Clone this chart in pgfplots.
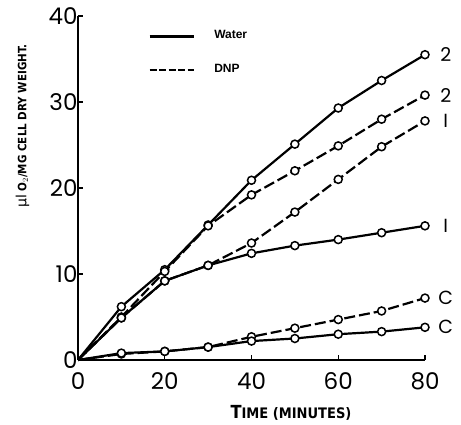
\documentclass[border=0pt]{standalone}
\usepackage{fontspec}
\setmainfont{Poppins}
\newfontfamily\gk{DejaVu Sans}
\newfontfamily\cond{DejaVu Sans Condensed}
\newfontfamily\lab{Liberation Sans}
\usepackage{pgfplots}
\pgfplotsset{compat=1.18}
\begin{document}
\begin{tikzpicture}[x=1pt,y=1pt]
\begin{axis}[
  at={(0,0)}, anchor=origin,
  scale only axis, width=347pt, height=344pt,
  xmin=0, xmax=80, ymin=0, ymax=40,
  axis lines=left, axis line style={line width=1.8pt,-},
  xtick={0,20,40,60,80}, ytick={0,10,20,30,40},
  tick style={line width=1.4pt,black}, major tick length=5pt,
  tick align=inside,
  /pgf/number format/assume math mode=true,
  ticklabel style={font=\fontsize{23}{24}\selectfont},
  xticklabel style={yshift=-9pt},
  yticklabel style={xshift=3pt},
  clip=false,
  every axis plot/.append style={line width=2.2pt, black, mark=*, mark size=4pt,
    mark options={solid, fill=white, draw=black, line width=1.5pt}, mark indices={2,...,9}},
]
\addplot[solid] coordinates {(0,0)(10,6.2)(20,10.5)(30,15.7)(40,20.9)(50,25.1)(60,29.3)(70,32.5)(80,35.5)};
\addplot[dash pattern=on 11pt off 4pt] coordinates {(0,0)(10,5.0)(20,10.3)(30,15.6)(40,19.2)(50,22.0)(60,24.9)(70,28.0)(80,30.8)};
\addplot[dash pattern=on 11pt off 4pt] coordinates {(0,0)(10,4.9)(20,9.2)(30,11.0)(40,13.6)(50,17.2)(60,21.0)(70,24.8)(80,27.8)};
\addplot[solid] coordinates {(0,0)(10,4.9)(20,9.2)(30,11.0)(40,12.4)(50,13.3)(60,14.0)(70,14.8)(80,15.6)};
\addplot[dash pattern=on 11pt off 4pt] coordinates {(0,0)(10,0.7)(20,1.0)(30,1.5)(40,2.7)(50,3.7)(60,4.7)(70,5.7)(80,7.2)};
\addplot[solid] coordinates {(0,0)(10,0.8)(20,1.0)(30,1.5)(40,2.2)(50,2.5)(60,3.0)(70,3.3)(80,3.8)};
\draw[line width=2.4pt] (axis cs:16.5,37.6) -- (axis cs:26.8,37.6);
\draw[line width=2.4pt, dash pattern=on 7pt off 2.5pt] (axis cs:16.5,33.7) -- (axis cs:26.8,33.7);
\node[anchor=west, font=\lab\bfseries\fontsize{12}{13}\selectfont] at (axis cs:30.6,37.8) {Water};
\node[anchor=west, font=\lab\bfseries\fontsize{12}{13}\selectfont] at (axis cs:30.6,33.9) {DNP};
\node[font=\fontsize{19}{20}\selectfont] at (axis cs:84.8,35.5) {2};
\node[font=\fontsize{19}{20}\selectfont] at (axis cs:84.8,30.8) {2};
\node[font=\fontsize{19}{20}\selectfont] at (axis cs:84.8,27.8) {I};
\node[font=\fontsize{19}{20}\selectfont] at (axis cs:84.8,15.6) {I};
\node[font=\fontsize{19}{20}\selectfont] at (axis cs:84.8,7.2) {C};
\node[font=\fontsize{19}{20}\selectfont] at (axis cs:84.8,3.8) {C};
\node[font=\cond\bfseries\fontsize{18}{19}\selectfont] at (axis cs:49.1,-6.2) {T{\fontsize{14.5}{15}\selectfont IME (MINUTES)}};
\node[rotate=90, font=\cond\bfseries\fontsize{11.5}{12}\selectfont] at (axis cs:-12.8,27.2) {{\gk\mdseries\fontsize{14}{15}\selectfont μl} O$_2$/MG CELL DRY WEIGHT.};
\end{axis}
\path[use as bounding box] (-78,-60) rectangle (383,360);
\end{tikzpicture}
\end{document}
